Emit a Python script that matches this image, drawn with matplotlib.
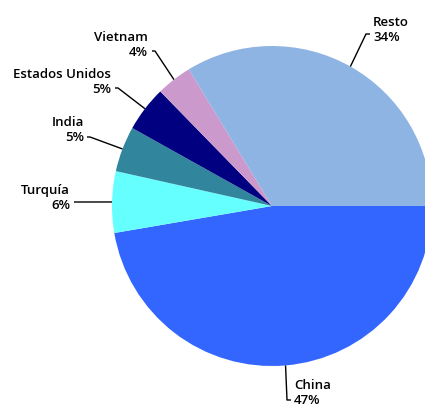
import numpy as np
import matplotlib.pyplot as plt

# share of total, clockwise from 3 o'clock
paises = ['China', 'Turquía', 'India', 'Estados Unidos', 'Vietnam', 'Resto']
cuota = [47.3, 6.2, 4.6, 4.6, 3.6, 33.7]
colores = ['#3366FF', '#66FFFF', '#31859C', '#000080', '#CC99CC', '#8EB4E3']

W, H = 425, 408
fig = plt.figure(figsize=(W / 100, H / 100), dpi=100)
ax = fig.add_axes([0, 0, 1, 1])

cx, cy, r = 272, H - 206, 160
wedges, _ = ax.pie(cuota, colors=colores, startangle=0, counterclock=False,
                   center=(cx, cy), radius=r, frame=True,
                   wedgeprops=dict(linewidth=0))
ax.set_xlim(0, W)
ax.set_ylim(0, H)
ax.set_aspect('equal')
ax.axis('off')

# label position (text anchor), knee of leader line, alignment
layout = {
    'China':          dict(txt=(294, 393), knee=(287, 400), tick=(291, 400), ha='left'),
    'Turquía':        dict(txt=(70, 198), knee=(74, 202), tick=(74, 202), ha='right'),
    'India':          dict(txt=(84, 130), knee=(90, 137), tick=(87, 137), ha='right'),
    'Estados Unidos': dict(txt=(111, 82), knee=(118, 88), tick=(115, 88), ha='right'),
    'Vietnam':        dict(txt=(148, 45), knee=(155, 51), tick=(152, 51), ha='right'),
    'Resto':          dict(txt=(373, 30), knee=(366, 34), tick=(370, 34), ha='left'),
}

for w, nombre, v in zip(wedges, paises, cuota):
    ang = np.deg2rad((w.theta1 + w.theta2) / 2)
    ex, ey = cx + r * np.cos(ang), cy + r * np.sin(ang)
    L = layout[nombre]
    kx, ky = L['knee']
    tx, ty = L['tick']
    ax.plot([ex, kx, tx], [ey, H - ky, H - ty], color='black', lw=1.0,
            solid_capstyle='butt', clip_on=False)
    ax.text(L['txt'][0], H - L['txt'][1], f'{nombre}\n{round(v):d}%',
            ha=L['ha'], va='center', multialignment=L['ha'],
            fontsize=9.5, family='Open Sans', fontweight='semibold',
            linespacing=1.15, color='black')

fig.savefig('out.png', dpi=100)
